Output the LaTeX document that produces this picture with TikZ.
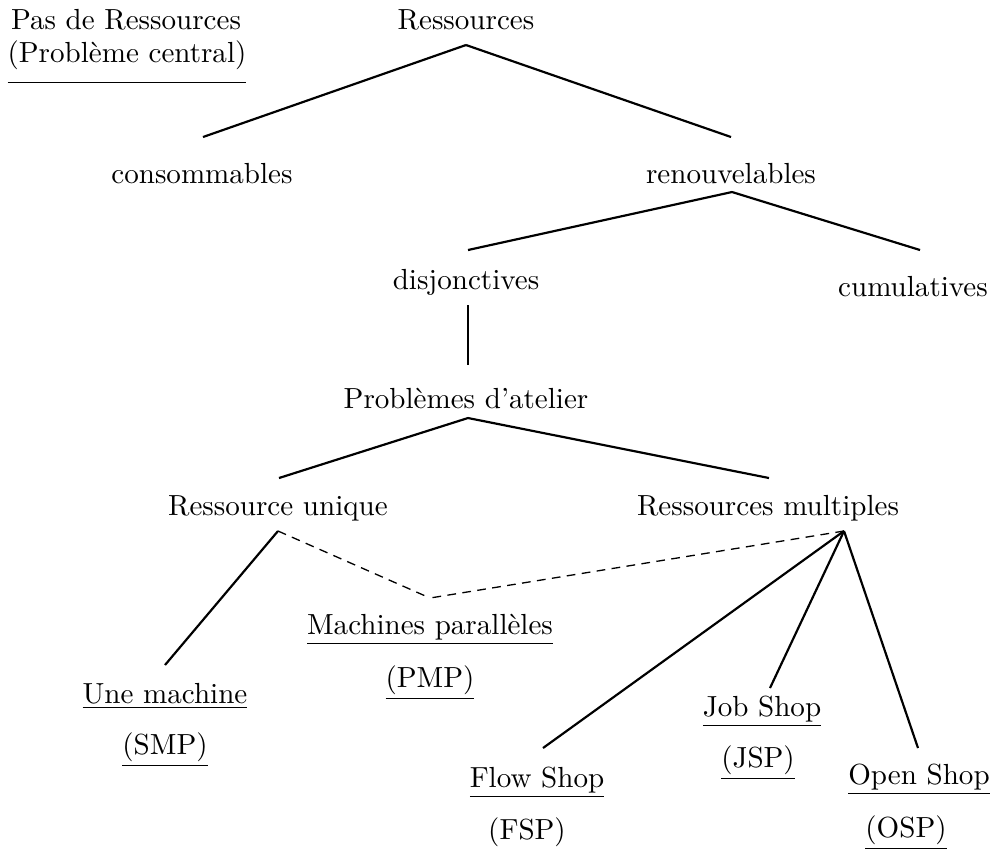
\documentclass[tikz,border=0pt]{standalone}
\usetikzlibrary{calc}
\begin{document}
\begin{tikzpicture}[x=0.344pt,y=-0.344pt,
  lbl/.style={anchor=base,inner sep=0pt},
  edge/.style={line width=0.75pt},
  link/.style={line width=0.45pt,dash pattern=on 3pt off 2.2pt}]
\useasboundingbox (0,0) rectangle (997,851);

% side note
\node[lbl] (pas) at (126,29) {Pas de Ressources};
\node[lbl] (pc)  at (127,62) {\underline{(Problème central)\rule[-5.6pt]{0pt}{0pt}}};

% resource hierarchy
\node[lbl] (res)  at (466,29)  {Ressources};
\node[lbl] (cons) at (202,183) {consommables};
\node[lbl] (ren)  at (731,183) {renouvelables};
\node[lbl] (dis)  at (466,289) {disjonctives};
\node[lbl] (cum)  at (913,296) {cumulatives};
\node[lbl] (pa)   at (466,408) {Problèmes d'atelier};
\node[lbl] (ru)   at (278,515) {Ressource unique};
\node[lbl] (rm)   at (768,515) {Ressources multiples};

% leaf problems
\node[lbl] (mp)   at (430,634) {\underline{Machines parallèles}};
\node[lbl] (pmp)  at (430,687) {\underline{(PMP)}};
\node[lbl] (um)   at (165,703) {\underline{Une machine}};
\node[lbl] (smp)  at (165,754) {\underline{(SMP)}};
\node[lbl] (js)   at (762,716) {\underline{Job Shop}};
\node[lbl] (jsp)  at (758,767) {\underline{(JSP)}};
\node[lbl] (fs)   at (537,787) {\underline{Flow Shop}};
\node[lbl] (fsp)  at (527,839) {(FSP)};
\node[lbl] (os)   at (919,784) {\underline{Open Shop}};
\node[lbl] (osp)  at (906,837) {\underline{(OSP)}};

% tree edges
\draw[edge] ($(res.base)+(0,16)$) -- ($(cons.base)+(1,-46)$);
\draw[edge] ($(res.base)+(0,16)$) -- ($(ren.base)+(0,-46)$);
\draw[edge] ($(ren.base)+(1,9)$) -- ($(dis.base)+(2,-39)$);
\draw[edge] ($(ren.base)+(1,9)$) -- ($(cum.base)+(7,-46)$);
\draw[edge] ($(dis.base)+(2,16)$) -- ($(pa.base)+(2,-43)$);
\draw[edge] ($(pa.base)+(2,10)$) -- ($(ru.base)+(1,-37)$);
\draw[edge] ($(pa.base)+(2,10)$) -- ($(rm.base)+(1,-37)$);
\draw[edge] ($(ru.base)+(0,16)$) -- ($(um.base)+(0,-38)$);
\draw[edge] ($(rm.base)+(76,16)$) -- ($(fs.base)+(6,-39)$);
\draw[edge] ($(rm.base)+(76,16)$) -- ($(js.base)+(8,-28)$);
\draw[edge] ($(rm.base)+(76,16)$) -- ($(os.base)+(-1,-36)$);

% parallel machines shared by both branches
\draw[link] ($(ru.base)+(0,16)$) -- ($(mp.base)+(0,-36)$);
\draw[link] ($(rm.base)+(76,16)$) -- ($(mp.base)+(0,-36)$);
\end{tikzpicture}
\end{document}
